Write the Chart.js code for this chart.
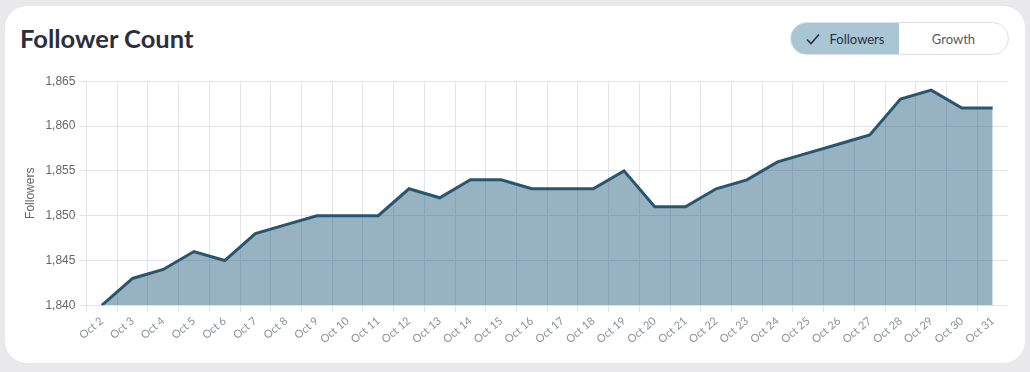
<!DOCTYPE html>
<html>
<head>
<meta charset="utf-8">
<script src="https://cdn.jsdelivr.net/npm/chart.js@4/dist/chart.umd.min.js"></script>
<style>
  html, body { margin: 0; padding: 0; }
  body { width: 1030px; height: 372px; background: #e9e9ec; font-family: Lato, sans-serif; position: relative; overflow: hidden; }
  .card { position: absolute; left: 5px; top: 6px; width: 1020px; height: 357px; background: #fff; border-radius: 22px; }
  .title { position: absolute; left: 15px; top: 17px; font-size: 25.5px; font-weight: 700; color: #2b2f3d; }
  .toggle { position: absolute; left: 785px; top: 16px; width: 217px; height: 31px; border: 1px solid #dcdfe5; border-radius: 17px; overflow: hidden; display: flex; font-size: 13px; }
  .toggle div { display: flex; align-items: center; justify-content: center; }
  .on { width: 108px; background: #a9c6d4; color: #2b2f3d; }
  .off { flex: 1; color: #555a63; }
  .chk { margin-right: 10px; width: 14px; height: 12px; }
  .wrap { position: absolute; left: 14px; top: 64px; width: 989px; height: 278px; }
</style>
</head>
<body>
<div class="card">
  <div class="title">Follower Count</div>
  <div class="toggle">
    <div class="on"><svg class="chk" viewBox="0 0 14 12"><polyline points="1,6.5 5,10.5 13,1.5" fill="none" stroke="#2b2f3d" stroke-width="1.6"/></svg>Followers</div>
    <div class="off">Growth</div>
  </div>
  <div class="wrap"><canvas id="followerChart"></canvas></div>
</div>
<script>
const days = ['Oct 2', 'Oct 3', 'Oct 4', 'Oct 5', 'Oct 6', 'Oct 7', 'Oct 8', 'Oct 9', 'Oct 10', 'Oct 11',
  'Oct 12', 'Oct 13', 'Oct 14', 'Oct 15', 'Oct 16', 'Oct 17', 'Oct 18', 'Oct 19', 'Oct 20', 'Oct 21',
  'Oct 22', 'Oct 23', 'Oct 24', 'Oct 25', 'Oct 26', 'Oct 27', 'Oct 28', 'Oct 29', 'Oct 30', 'Oct 31'];
const followers = [1840, 1843, 1844, 1846, 1845, 1848, 1849, 1850, 1850, 1850,
  1853, 1852, 1854, 1854, 1853, 1853, 1853, 1855, 1851, 1851,
  1853, 1854, 1856, 1857, 1858, 1859, 1863, 1864, 1862, 1862];
const yMin = 1840;
const yMax = 1865;

const ctx = document.getElementById('followerChart').getContext('2d');
const chart = new Chart(ctx, {
  type: 'line',
  data: {
    labels: days,
    datasets: [{
      label: 'Followers',
      data: followers,
      borderColor: '#285670',
      backgroundColor: 'rgba(47, 101, 129, 0.5)',
      borderWidth: 3,
      fill: 'origin',
      pointRadius: 0,
      tension: 0
    }]
  },
  options: {
    responsive: true,
    maintainAspectRatio: false,
    animation: false,
    plugins: { legend: { display: false }, tooltip: { enabled: false } },
    scales: {
      x: {
        offset: true,
        grid: { offset: true, color: '#e3e3ea', tickLength: 7 },
        border: { color: '#e3e3ea' },
        ticks: { minRotation: 40, maxRotation: 40, color: '#8d909c', font: { family: 'Lato', size: 11 }, padding: 2 }
      },
      y: {
        min: yMin,
        max: yMax,
        grid: { color: '#e3e3ea', tickLength: 7 },
        border: { color: '#e3e3ea' },
        ticks: { stepSize: 5, color: '#666', font: { family: 'Liberation Sans', size: 12 }, padding: 4 },
        title: { display: true, text: 'Followers', color: '#666', font: { family: 'Liberation Sans', size: 12 } }
      }
    }
  }
});
</script>
</body>
</html>
